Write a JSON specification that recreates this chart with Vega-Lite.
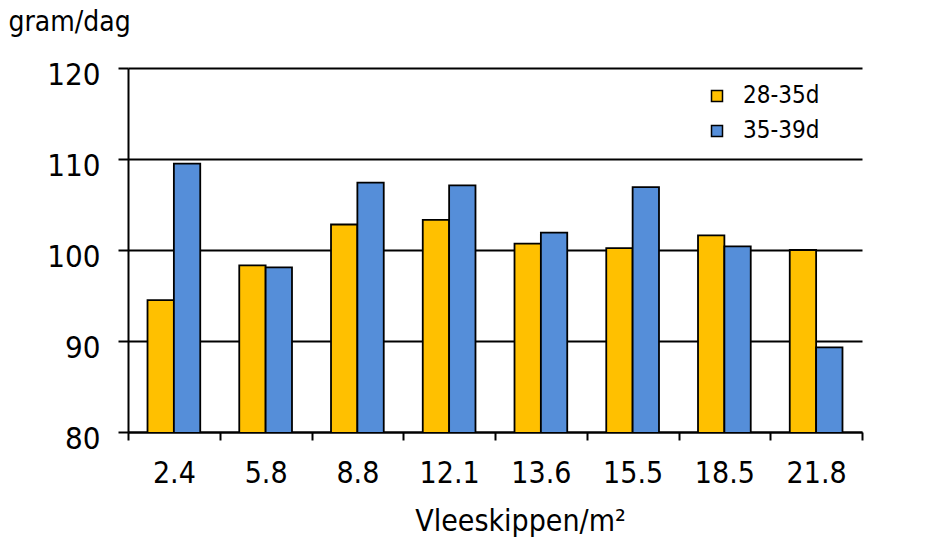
{
  "$schema": "https://vega.github.io/schema/vega-lite/v6.json",
  "autosize": "none",
  "width": 734,
  "height": 364,
  "padding": {"left": 128, "top": 68, "right": 68, "bottom": 118},
  "background": "white",
  "config": {
    "font": "DejaVu Sans Condensed, Roboto, sans-serif",
    "view": {"stroke": null}
  },
  "data": {
    "values": [
      {"dichtheid": "2.4", "periode": "28-35d", "groei": 94.5},
      {"dichtheid": "2.4", "periode": "35-39d", "groei": 109.5},
      {"dichtheid": "5.8", "periode": "28-35d", "groei": 98.3},
      {"dichtheid": "5.8", "periode": "35-39d", "groei": 98.1},
      {"dichtheid": "8.8", "periode": "28-35d", "groei": 102.8},
      {"dichtheid": "8.8", "periode": "35-39d", "groei": 107.4},
      {"dichtheid": "12.1", "periode": "28-35d", "groei": 103.3},
      {"dichtheid": "12.1", "periode": "35-39d", "groei": 107.1},
      {"dichtheid": "13.6", "periode": "28-35d", "groei": 100.7},
      {"dichtheid": "13.6", "periode": "35-39d", "groei": 101.9},
      {"dichtheid": "15.5", "periode": "28-35d", "groei": 100.2},
      {"dichtheid": "15.5", "periode": "35-39d", "groei": 106.9},
      {"dichtheid": "18.5", "periode": "28-35d", "groei": 101.6},
      {"dichtheid": "18.5", "periode": "35-39d", "groei": 100.4},
      {"dichtheid": "21.8", "periode": "28-35d", "groei": 100.0},
      {"dichtheid": "21.8", "periode": "35-39d", "groei": 89.3}
    ]
  },
  "mark": {"type": "bar", "stroke": "black", "strokeWidth": 1.8, "clip": true},
  "encoding": {
    "x": {
      "field": "dichtheid",
      "type": "nominal",
      "sort": null,
      "title": "Vleeskippen/m²",
      "scale": {"paddingInner": 0, "paddingOuter": 0},
      "axis": {
        "labelAngle": 0,
        "labelFontSize": 30,
        "labelPadding": 18,
        "labelColor": "black",
        "titleFontSize": 30,
        "titleFontWeight": "normal",
        "titleColor": "black",
        "titlePadding": 18,
        "titleX": 392,
        "titleAlign": "center",
        "domainColor": "black",
        "domainWidth": 2,
        "tickColor": "black",
        "tickWidth": 2,
        "tickSize": 8,
        "tickBand": "extent"
      }
    },
    "xOffset": {
      "field": "periode",
      "type": "nominal",
      "scale": {"paddingInner": 0, "paddingOuter": 0.74}
    },
    "y": {
      "field": "groei",
      "type": "quantitative",
      "title": "gram/dag",
      "scale": {"domain": [80, 120], "zero": false},
      "axis": {
        "values": [80, 90, 100, 110, 120],
        "labelFontSize": 31,
        "labelPadding": 18,
        "labelOffset": 7,
        "labelColor": "black",
        "tickSize": 10,
        "tickColor": "black",
        "tickWidth": 2,
        "domainColor": "black",
        "domainWidth": 2,
        "gridColor": "black",
        "gridWidth": 2,
        "gridOpacity": 1,
        "titleAngle": 0,
        "titleFontSize": 28,
        "titleFontWeight": "normal",
        "titleColor": "black",
        "titleAlign": "left",
        "titleBaseline": "middle",
        "titleX": -120,
        "titleY": -46
      }
    },
    "color": {
      "field": "periode",
      "type": "nominal",
      "scale": {"domain": ["28-35d", "35-39d"], "range": ["#FFC000", "#558ED9"]},
      "legend": {
        "title": null,
        "orient": "none",
        "legendX": 577,
        "legendY": 16,
        "symbolType": "square",
        "symbolSize": 121,
        "symbolStrokeColor": "black",
        "symbolStrokeWidth": 1.5,
        "labelFontSize": 24,
        "labelColor": "black",
        "labelOffset": 14,
        "rowPadding": 11
      }
    }
  }
}
